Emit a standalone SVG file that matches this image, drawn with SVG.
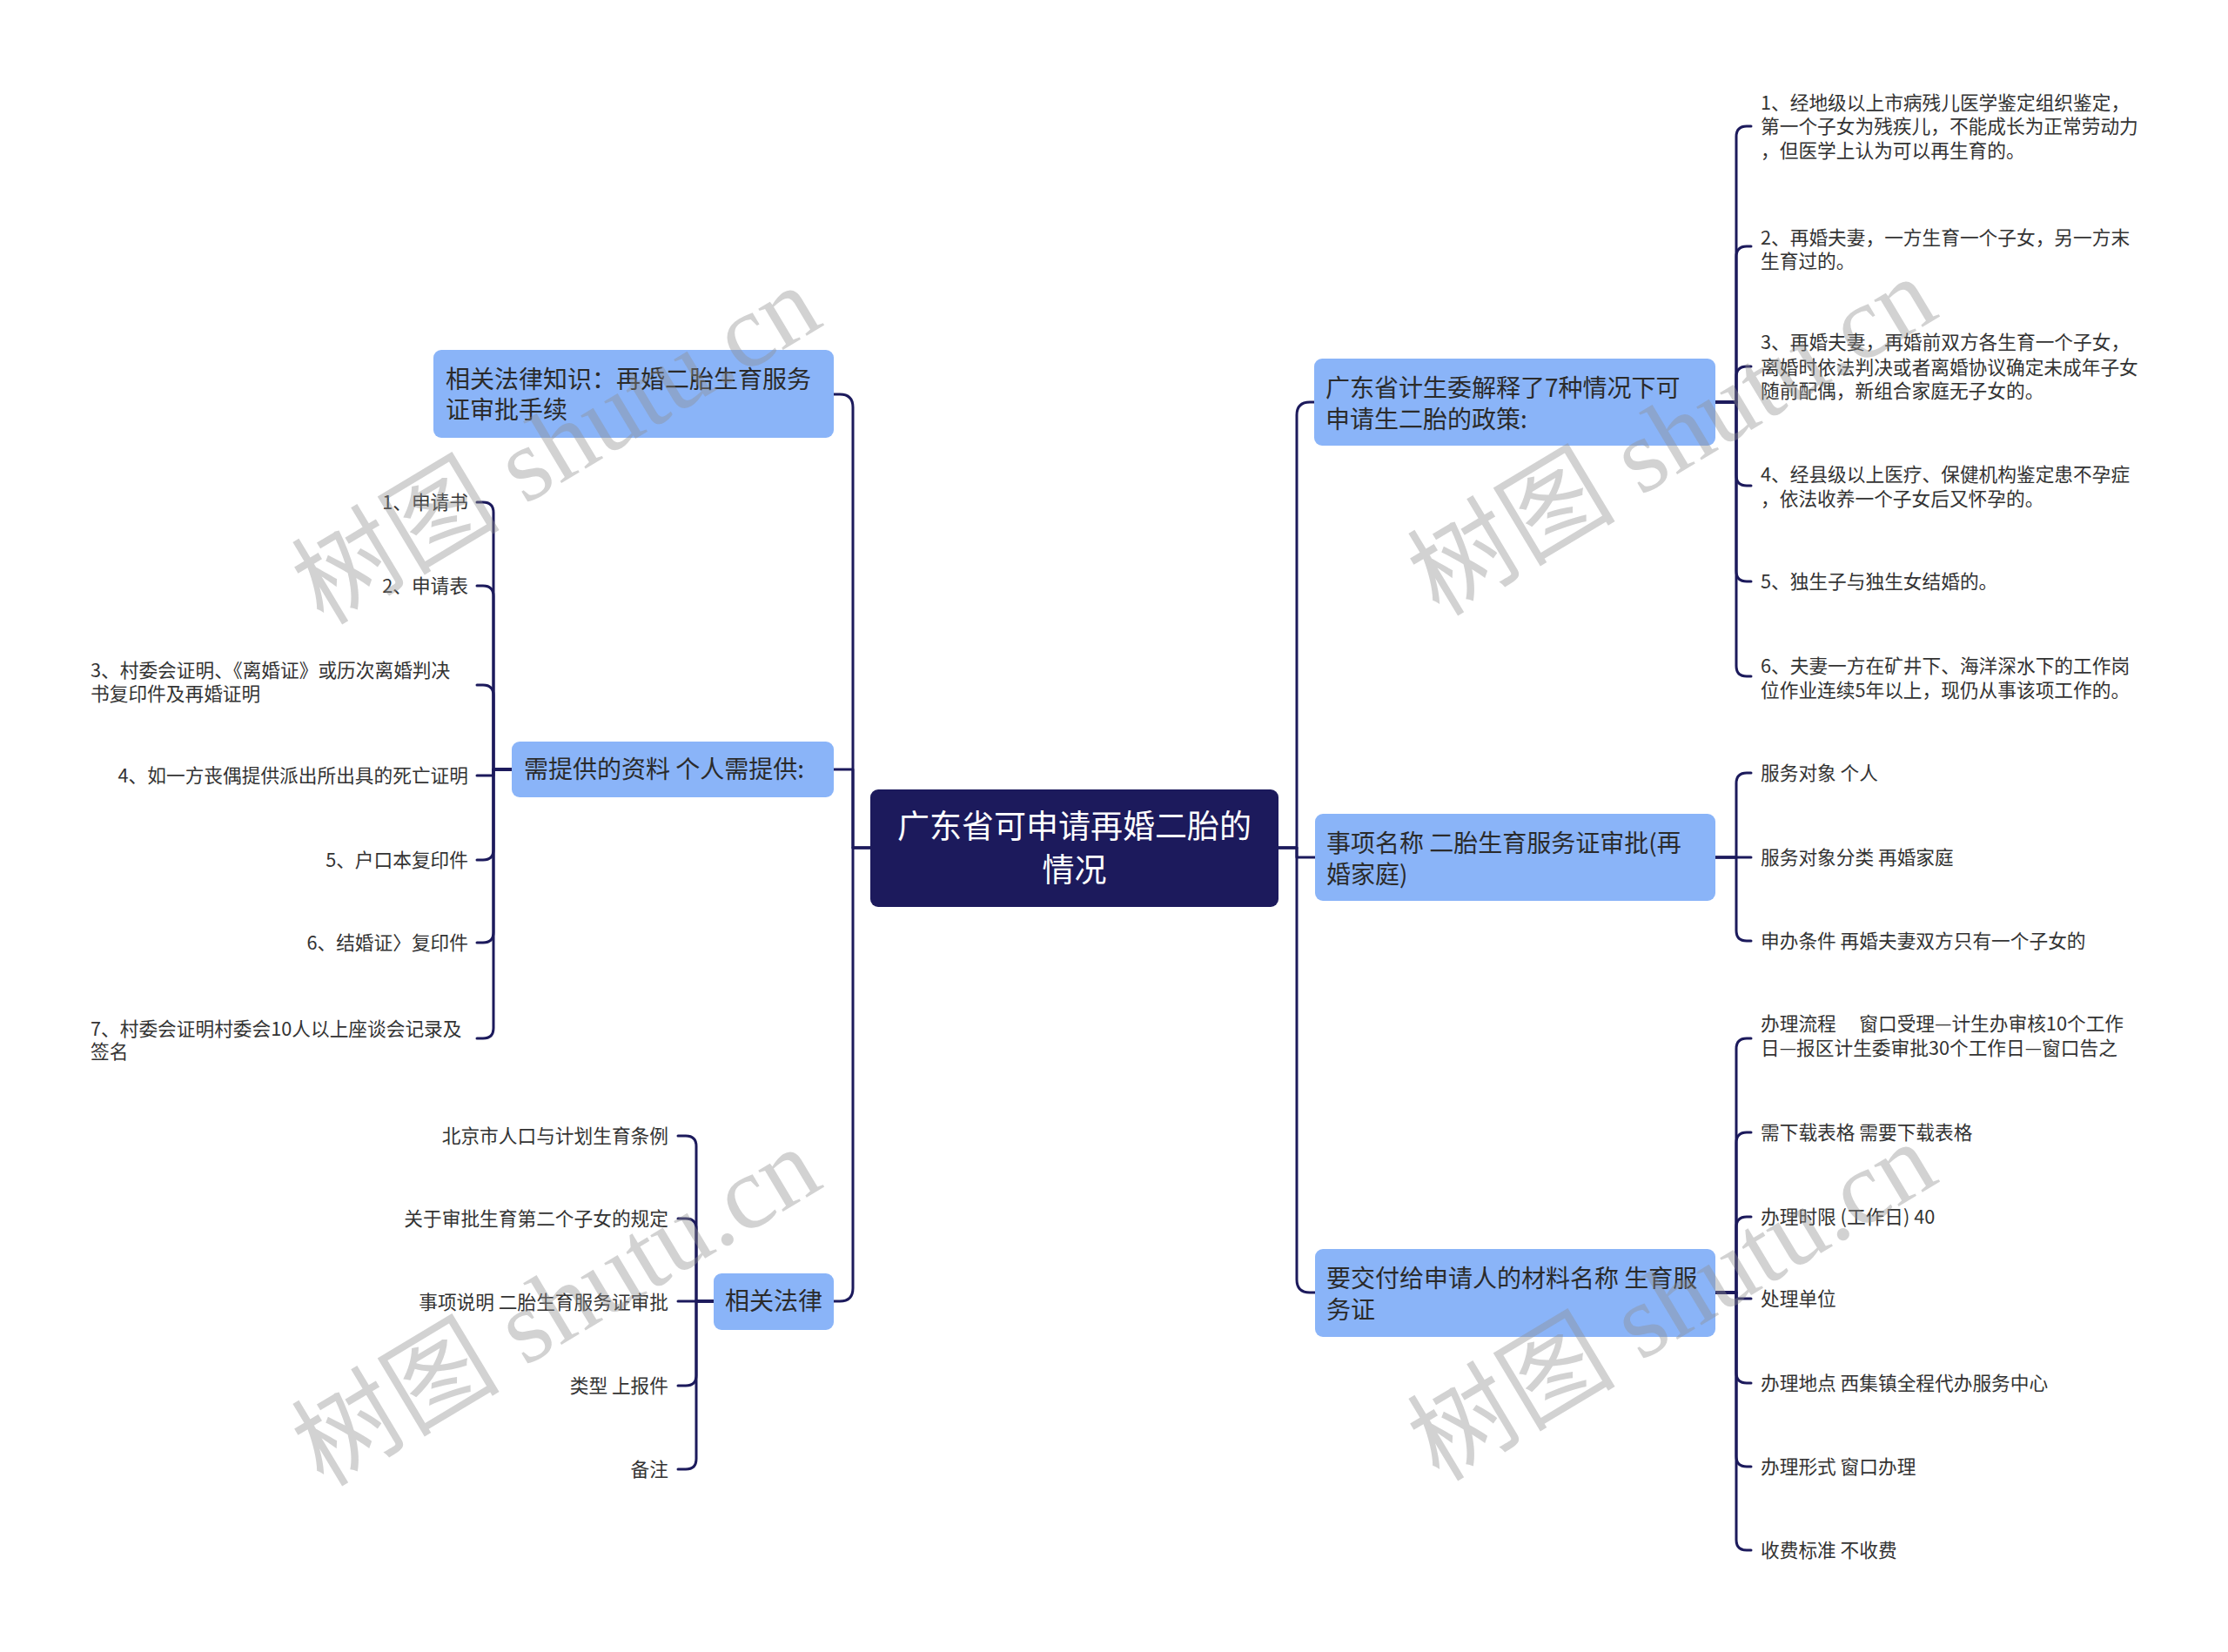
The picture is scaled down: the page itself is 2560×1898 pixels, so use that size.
<svg xmlns="http://www.w3.org/2000/svg" width="2560" height="1898" viewBox="0 0 2560 1898">
<style>
.bg{fill:#ffffff}
.root rect{fill:#1c1a5c}
.root text{fill:#ffffff;font-family:"Noto Sans CJK SC","Noto Sans",sans-serif;font-size:37px}
.l1 rect{fill:#8ab4f8}
.l1 text{fill:#2b2b2b;font-family:"Noto Sans CJK SC","Noto Sans",sans-serif;font-size:28px}
.leaf text{fill:#333333;font-family:"Noto Sans CJK SC","Noto Sans",sans-serif;font-size:21.7px}
.end{text-anchor:end}
#connectors path{fill:none;stroke:#1c1a5c;stroke-width:3;stroke-linecap:round;stroke-linejoin:round}
.wm text{fill:#8f8f8f;fill-opacity:0.4;font-family:"Liberation Serif","Noto Sans CJK SC",serif;font-size:120px}
</style>
<rect class="bg" x="0" y="0" width="2560" height="1898"/>

<g id="connectors">
  <!-- root to right level-1 -->
  <path d="M1469 974 H1490 V477 Q1490 462 1505 462 H1510"/>
  <path d="M1469 974 H1490 V985 H1511"/>
  <path d="M1469 974 H1490 V1470 Q1490 1485 1505 1485 H1511"/>
  <!-- root to left level-1 -->
  <path d="M1000 974 H980 V468 Q980 453 965 453 H958"/>
  <path d="M1000 974 H980 V884 H958"/>
  <path d="M1000 974 H980 V1480 Q980 1495 965 1495 H958"/>
  <!-- right group 1 -->
  <path d="M1971 462 H1995 V157 Q1995 145 2007 145 H2012"/>
  <path d="M1971 462 H1995 V295 Q1995 283 2007 283 H2012"/>
  <path d="M1971 462 H1995 V433 Q1995 421 2007 421 H2012"/>
  <path d="M1971 462 H1995 V546 Q1995 558 2007 558 H2012"/>
  <path d="M1971 462 H1995 V656 Q1995 668 2007 668 H2012"/>
  <path d="M1971 462 H1995 V765 Q1995 777 2007 777 H2012"/>
  <!-- right group 2 -->
  <path d="M1971 985 H1995 V900 Q1995 888 2007 888 H2012"/>
  <path d="M1971 985 H2012"/>
  <path d="M1971 985 H1995 V1069 Q1995 1081 2007 1081 H2012"/>
  <!-- right group 3 -->
  <path d="M1971 1485 H1995 V1205 Q1995 1193 2007 1193 H2012"/>
  <path d="M1971 1485 H1995 V1313 Q1995 1301 2007 1301 H2012"/>
  <path d="M1971 1485 H1995 V1410 Q1995 1398 2007 1398 H2012"/>
  <path d="M1971 1485 H1995 V1492 H2012"/>
  <path d="M1971 1485 H1995 V1577 Q1995 1589 2007 1589 H2012"/>
  <path d="M1971 1485 H1995 V1673 Q1995 1685 2007 1685 H2012"/>
  <path d="M1971 1485 H1995 V1769 Q1995 1781 2007 1781 H2012"/>
  <!-- left group B -->
  <path d="M588 884 H567 V589 Q567 577 555 577 H548"/>
  <path d="M588 884 H567 V685 Q567 673 555 673 H548"/>
  <path d="M588 884 H567 V799 Q567 787 555 787 H548"/>
  <path d="M588 884 H567 V891 H548"/>
  <path d="M588 884 H567 V976 Q567 988 555 988 H548"/>
  <path d="M588 884 H567 V1071 Q567 1083 555 1083 H548"/>
  <path d="M588 884 H567 V1181 Q567 1193 555 1193 H548"/>
  <!-- left group C -->
  <path d="M820 1495 H800 V1317 Q800 1305 788 1305 H779"/>
  <path d="M820 1495 H800 V1412 Q800 1400 788 1400 H779"/>
  <path d="M820 1495 H779"/>
  <path d="M820 1495 H800 V1580 Q800 1592 788 1592 H779"/>
  <path d="M820 1495 H800 V1676 Q800 1688 788 1688 H779"/>
</g>

<g id="root" class="root">
  <rect x="1000" y="907" width="469" height="135" rx="9"/>
  <text x="1234.5" y="963" text-anchor="middle">广东省可申请再婚二胎的</text>
  <text x="1234.5" y="1013" text-anchor="middle">情况</text>
</g>

<g id="n-law-knowledge" class="l1">
  <rect x="498" y="402" width="460" height="101" rx="9"/>
  <text x="512" y="446">相关法律知识：再婚二胎生育服务</text>
  <text x="512" y="481">证审批手续</text>
</g>
<g id="n-materials" class="l1">
  <rect x="588" y="852" width="370" height="64" rx="9"/>
  <text x="602" y="894">需提供的资料 个人需提供:</text>
</g>
<g id="n-laws" class="l1">
  <rect x="820" y="1463" width="138" height="65" rx="9"/>
  <text x="833" y="1505">相关法律</text>
</g>
<g id="n-policy" class="l1">
  <rect x="1510" y="412" width="461" height="100" rx="9"/>
  <text x="1523" y="456">广东省计生委解释了7种情况下可</text>
  <text x="1523" y="492">申请生二胎的政策:</text>
</g>
<g id="n-item-name" class="l1">
  <rect x="1511" y="935" width="460" height="100" rx="9"/>
  <text x="1524" y="979">事项名称 二胎生育服务证审批(再</text>
  <text x="1524" y="1015">婚家庭)</text>
</g>
<g id="n-deliver" class="l1">
  <rect x="1511" y="1435" width="460" height="101" rx="9"/>
  <text x="1524" y="1479">要交付给申请人的材料名称 生育服</text>
  <text x="1524" y="1515">务证</text>
</g>

<g id="leaves-policy" class="leaf">
  <g id="p1"><text x="2023" y="126">1、经地级以上市病残儿医学鉴定组织鉴定，</text><text x="2023" y="153">第一个子女为残疾儿，不能成长为正常劳动力</text><text x="2023" y="181">，但医学上认为可以再生育的。</text></g>
  <g id="p2"><text x="2023" y="281">2、再婚夫妻，一方生育一个子女，另一方末</text><text x="2023" y="308">生育过的。</text></g>
  <g id="p3"><text x="2023" y="401">3、再婚夫妻，再婚前双方各生育一个子女，</text><text x="2023" y="430">离婚时依法判决或者离婚协议确定未成年子女</text><text x="2023" y="457">随前配偶，新组合家庭无子女的。</text></g>
  <g id="p4"><text x="2023" y="553">4、经县级以上医疗、保健机构鉴定患不孕症</text><text x="2023" y="581">，依法收养一个子女后又怀孕的。</text></g>
  <g id="p5"><text x="2023" y="676">5、独生子与独生女结婚的。</text></g>
  <g id="p6"><text x="2023" y="773">6、夫妻一方在矿井下、海洋深水下的工作岗</text><text x="2023" y="801">位作业连续5年以上，现仍从事该项工作的。</text></g>
</g>

<g id="leaves-item" class="leaf">
  <g id="i1"><text x="2023" y="896">服务对象 个人</text></g>
  <g id="i2"><text x="2023" y="993">服务对象分类 再婚家庭</text></g>
  <g id="i3"><text x="2023" y="1089">申办条件 再婚夫妻双方只有一个子女的</text></g>
</g>

<g id="leaves-deliver" class="leaf">
  <g id="d1"><text x="2023" y="1184">办理流程　 窗口受理—计生办审核10个工作</text><text x="2023" y="1212">日—报区计生委审批30个工作日—窗口告之</text></g>
  <g id="d2"><text x="2023" y="1309">需下载表格 需要下载表格</text></g>
  <g id="d3"><text x="2023" y="1406">办理时限 (工作日) 40</text></g>
  <g id="d4"><text x="2023" y="1500">处理单位</text></g>
  <g id="d5"><text x="2023" y="1597">办理地点 西集镇全程代办服务中心</text></g>
  <g id="d6"><text x="2023" y="1693">办理形式 窗口办理</text></g>
  <g id="d7"><text x="2023" y="1789">收费标准 不收费</text></g>
</g>

<g id="leaves-materials" class="leaf">
  <g id="m1"><text class="end" x="538" y="585">1、申请书</text></g>
  <g id="m2"><text class="end" x="538" y="681">2、申请表</text></g>
  <g id="m3"><text x="104" y="778">3、村委会证明、《离婚证》或历次离婚判决</text><text x="104" y="805">书复印件及再婚证明</text></g>
  <g id="m4"><text class="end" x="538" y="899">4、如一方丧偶提供派出所出具的死亡证明</text></g>
  <g id="m5"><text class="end" x="538" y="996">5、户口本复印件</text></g>
  <g id="m6"><text class="end" x="538" y="1091">6、结婚证〉复印件</text></g>
  <g id="m7"><text x="104" y="1190">7、村委会证明村委会10人以上座谈会记录及</text><text x="104" y="1216">签名</text></g>
</g>

<g id="leaves-laws" class="leaf">
  <g id="r1"><text class="end" x="768" y="1313">北京市人口与计划生育条例</text></g>
  <g id="r2"><text class="end" x="768" y="1408">关于审批生育第二个子女的规定</text></g>
  <g id="r3"><text class="end" x="768" y="1504">事项说明 二胎生育服务证审批</text></g>
  <g id="r4"><text class="end" x="768" y="1600">类型 上报件</text></g>
  <g id="r5"><text class="end" x="768" y="1696">备注</text></g>
</g>

<g id="watermarks" class="wm">
  <text x="660" y="546" text-anchor="middle" transform="rotate(-31 660 546)">树图 shutu.cn</text>
  <text x="660" y="1536" text-anchor="middle" transform="rotate(-31 660 1536)">树图 shutu.cn</text>
  <text x="1942" y="536" text-anchor="middle" transform="rotate(-31 1942 536)">树图 shutu.cn</text>
  <text x="1942" y="1530" text-anchor="middle" transform="rotate(-31 1942 1530)">树图 shutu.cn</text>
</g>
</svg>
